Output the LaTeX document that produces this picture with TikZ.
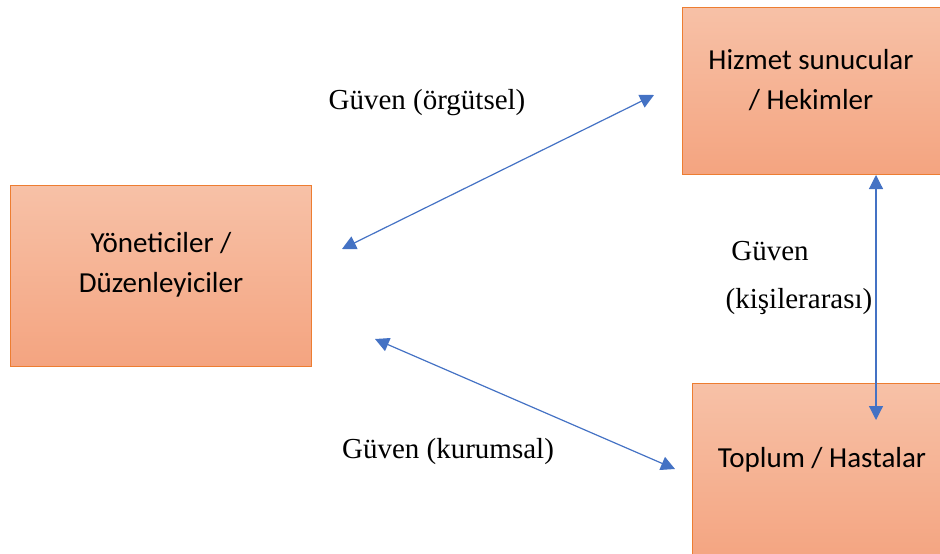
\documentclass[tikz,border=0pt]{standalone}
\usepackage{fontspec}
\setmainfont{Liberation Serif}
\newfontfamily\boxfont{Carlito}
\usetikzlibrary{arrows.meta, positioning, calc}
\definecolor{boxtop}{RGB}{247,193,167}
\definecolor{boxbottom}{RGB}{244,164,128}
\definecolor{boxline}{RGB}{237,125,49}
\definecolor{linkblue}{RGB}{68,114,196}
\tikzset{
  actor/.style={draw=boxline, line width=1pt, top color=boxtop, bottom color=boxbottom, inner sep=0pt},
  actortext/.style={align=center, font=\boxfont\fontsize{29}{40}\selectfont},
  trust/.style={font=\fontsize{29}{35}\selectfont},
  link/.style={linkblue, line width=1.2pt, {Triangle[length=14pt,width=14pt]}-{Triangle[length=14pt,width=14pt]}}
}

\begin{document}
\begin{tikzpicture}[x=1pt,y=-1pt]
\useasboundingbox (0,0) rectangle (940,554);
\clip (0,0) rectangle (940,554);

% Boxes
\node[actor, minimum width=301pt, minimum height=181pt] (yon) at (160.5,275.5) {};
\node[actor, minimum width=258pt, minimum height=167pt] (hiz) at (811,90.5) {};
\node[actor, minimum width=260pt, minimum height=180pt] (top) at (822,473) {};

\node[actortext] (yontxt) at (161,265) {Yöneticiler /\\Düzenleyiciler};
\node[actortext] (hiztxt) at (811,80) {Hizmet sunucular\\/ Hekimler};
\node[actortext] (toptxt) at (822,460) {Toplum / Hastalar};

% Arrow ends
\coordinate (a1) at (342,249);
\coordinate (a2) at (654,95);
\coordinate (b1) at (375,339);
\coordinate (b2) at (675,469);
\coordinate (c1) at (876,175);
\coordinate (c2) at (876,420);

\draw[link] (a1) -- (a2);
\draw[link] (b1) -- (b2);
\draw[link] (c1) -- (c2);

% Labels
\node[trust] (org) at (427,103) {Güven (örgütsel)};
\node[trust] (kur) at (448,452) {Güven (kurumsal)};
\node[trust] (kis1) at (770,251) {Güven};
\node[trust] (kis2) at (799,302) {(kişilerarası)};
\end{tikzpicture}
\end{document}
